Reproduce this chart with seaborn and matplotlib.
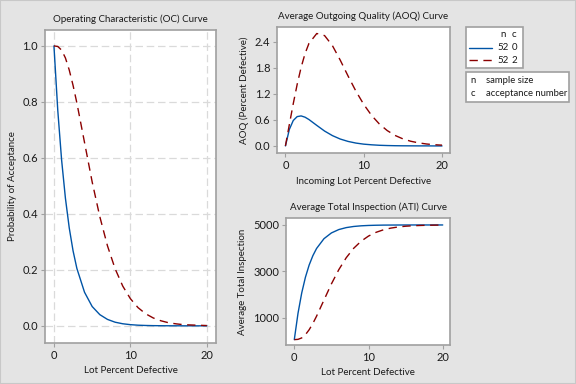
import matplotlib
matplotlib.use("Agg")
import matplotlib.pyplot as plt
from matplotlib.lines import Line2D
from matplotlib.patches import Rectangle
import seaborn as sns

# ---------------- data ----------------
lot_pct = [0, 0.5, 1, 1.5, 2, 2.5, 3, 4, 5, 6, 7, 8, 9, 10,
           11, 12, 13, 14, 15, 16, 17, 18, 19, 20]

oc_c0 = [1.0, 0.770, 0.593, 0.456, 0.350, 0.268, 0.205, 0.120, 0.069,
         0.040, 0.023, 0.013, 0.0074, 0.0042, 0.0023, 0.0013, 0.0007,
         0.0004, 0.0002, 0.0001, 0.0001, 0.0, 0.0, 0.0]
oc_c2 = [1.0, 0.998, 0.985, 0.957, 0.914, 0.859, 0.796, 0.655, 0.514,
         0.390, 0.286, 0.204, 0.142, 0.097, 0.065, 0.043, 0.028,
         0.018, 0.011, 0.007, 0.004, 0.003, 0.002, 0.001]

aoq_c0 = [0.0, 0.381, 0.587, 0.676, 0.692, 0.663, 0.609, 0.474, 0.343,
          0.238, 0.159, 0.104, 0.066, 0.041, 0.026, 0.015, 0.009,
          0.005, 0.003, 0.002, 0.001, 0.001, 0.0, 0.0]
aoq_c2 = [0.0, 0.494, 0.975, 1.420, 1.809, 2.126, 2.362, 2.592, 2.544,
          2.313, 1.978, 1.612, 1.263, 0.958, 0.704, 0.505, 0.354,
          0.242, 0.163, 0.108, 0.071, 0.045, 0.028, 0.018]

ati_c0 = [52, 1188, 2066, 2745, 3269, 3673, 3985, 4408, 4656, 4802,
          4886, 4935, 4963, 4979, 4988, 4994, 4996, 4998, 4999, 5000,
          5000, 5000, 5000, 5000]
ati_c2 = [52, 64, 126, 266, 478, 748, 1064, 1761, 2456, 3073, 3587,
          3993, 4298, 4521, 4680, 4790, 4864, 4913, 4946, 4966, 4979,
          4988, 4993, 4996]

plan_n = ["52", "52"]
plan_c = ["0", "2"]

# ---------------- style ----------------
sns.set_theme(style="white")
plt.rcParams["font.family"] = ["Lato", "DejaVu Sans"]
plt.rcParams["text.color"] = "#1a1a1a"
plt.rcParams["axes.labelcolor"] = "#1a1a1a"
plt.rcParams["xtick.color"] = "#1a1a1a"
plt.rcParams["ytick.color"] = "#1a1a1a"

BG = "#e4e4e4"
EDGE = "#a0a0a0"
BLUE = "#0054a6"
RED = "#8b0000"
DASH = (0, (6, 4))

fig = plt.figure(figsize=(5.76, 3.84), dpi=100, facecolor=BG)
fig.patches.append(Rectangle((0, 0), 1, 1, transform=fig.transFigure,
                             fill=False, ec="#c8c8c8", lw=1.5))

ax_oc = fig.add_axes([0.078, 0.107, 0.297, 0.815])
ax_aoq = fig.add_axes([0.481, 0.601, 0.300, 0.329])
ax_ati = fig.add_axes([0.4965, 0.1016, 0.285, 0.330])


def style_axes(ax, title, xlabel, ylabel):
    ax.set_facecolor("white")
    for sp in ax.spines.values():
        sp.set_color(EDGE)
        sp.set_linewidth(1.2)
    ax.tick_params(axis="both", which="major", direction="out", length=3,
                   width=0.8, color=EDGE, labelsize=8, pad=2,
                   bottom=True, left=True)
    ax.set_title(title, fontsize=7, pad=6)
    ax.set_xlabel(xlabel, fontsize=7, labelpad=4)
    ax.set_ylabel(ylabel, fontsize=7, labelpad=4)
    ax.set_xticks([0, 10, 20])


# ---- OC curve ----
sns.lineplot(x=lot_pct, y=oc_c0, ax=ax_oc, color=BLUE, linewidth=1)
sns.lineplot(x=lot_pct, y=oc_c2, ax=ax_oc, color=RED, linewidth=1,
             linestyle=DASH)
style_axes(ax_oc, "Operating Characteristic (OC) Curve",
           "Lot Percent Defective", "Probability of Acceptance")
ax_oc.set_xlim(-1.18, 21.2)
ax_oc.set_ylim(-0.061, 1.057)
ax_oc.set_yticks([0.0, 0.2, 0.4, 0.6, 0.8, 1.0])
ax_oc.set_yticklabels(["0.0", "0.2", "0.4", "0.6", "0.8", "1.0"])
ax_oc.grid(True, color="#dadada", linestyle=(0, (6, 3)), linewidth=0.9)
ax_oc.set_axisbelow(True)

# ---- AOQ curve ----
sns.lineplot(x=lot_pct, y=aoq_c0, ax=ax_aoq, color=BLUE, linewidth=1)
sns.lineplot(x=lot_pct, y=aoq_c2, ax=ax_aoq, color=RED, linewidth=1,
             linestyle=DASH)
style_axes(ax_aoq, "Average Outgoing Quality (AOQ) Curve",
           "Incoming Lot Percent Defective", "AOQ (Percent Defective)")
ax_aoq.set_xlim(-1.07, 21.0)
ax_aoq.set_ylim(-0.168, 2.745)
ax_aoq.set_yticks([0.0, 0.6, 1.2, 1.8, 2.4])
ax_aoq.set_yticklabels(["0.0", "0.6", "1.2", "1.8", "2.4"])

# ---- ATI curve ----
sns.lineplot(x=lot_pct, y=ati_c0, ax=ax_ati, color=BLUE, linewidth=1)
sns.lineplot(x=lot_pct, y=ati_c2, ax=ax_ati, color=RED, linewidth=1,
             linestyle=DASH)
style_axes(ax_ati, "Average Total Inspection (ATI) Curve",
           "Lot Percent Defective", "Average Total Inspection")
ax_ati.set_xlim(-1.12, 21.0)
ax_ati.set_ylim(-179, 5289)
ax_ati.set_yticks([1000, 3000, 5000])

# ---- legend boxes (figure coordinates) ----
fig.patches.append(Rectangle((0.8085, 0.822), 0.099, 0.107,
                             transform=fig.transFigure, fc="white",
                             ec=EDGE, lw=1.2))
fig.text(0.873, 0.909, "n", fontsize=7, ha="center", va="center")
fig.text(0.893, 0.909, "c", fontsize=7, ha="center", va="center")
rows_y = [0.876, 0.843]
for y, nn, cc, col, ls in zip(rows_y, plan_n, plan_c, [BLUE, RED],
                              ["-", DASH]):
    fig.lines.append(Line2D([0.814, 0.855], [y, y], transform=fig.transFigure,
                            color=col, lw=1, linestyle=ls))
    fig.text(0.874, y, nn, fontsize=7, ha="center", va="center")
    fig.text(0.893, y, cc, fontsize=7, ha="center", va="center")

fig.patches.append(Rectangle((0.8085, 0.735), 0.18, 0.0775,
                             transform=fig.transFigure, fc="white",
                             ec=EDGE, lw=1.2))
fig.text(0.817, 0.790, "n", fontsize=6.8, va="center")
fig.text(0.844, 0.790, "sample size", fontsize=6.8, va="center")
fig.text(0.817, 0.757, "c", fontsize=6.8, va="center")
fig.text(0.844, 0.757, "acceptance number", fontsize=6.8, va="center")

fig.savefig("out.png", dpi=100, facecolor=BG)
